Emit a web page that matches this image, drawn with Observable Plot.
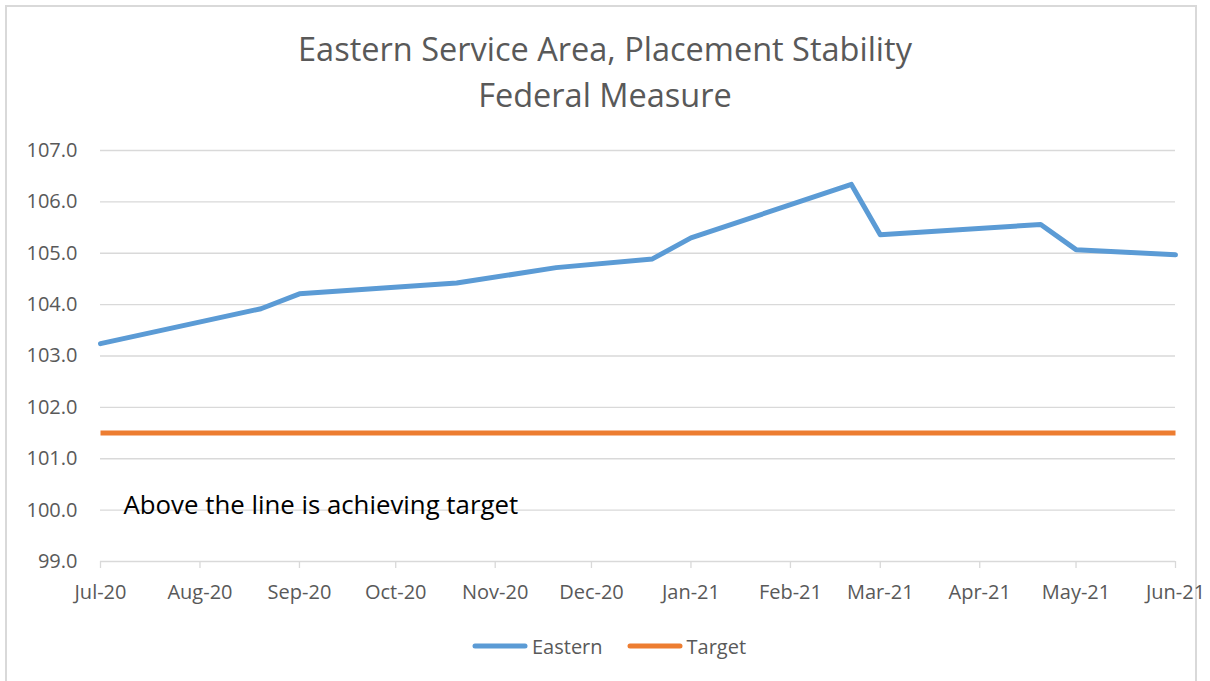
<!DOCTYPE html>
<html>
<head>
<meta charset="utf-8">
<script src="https://cdn.jsdelivr.net/npm/d3@7"></script>
<script src="https://cdn.jsdelivr.net/npm/@observablehq/plot@0.6"></script>
<style>
  html, body { margin: 0; padding: 0; background: #fff; }
  #wrap { position: relative; width: 1210px; height: 681px; overflow: hidden; font-family: "Open Sans", sans-serif; }
  #border { position: absolute; left: 5px; top: 5px; width: 1192px; height: 700px; border: 2px solid #d9d9d9; box-sizing: border-box; }
  #title { position: absolute; left: 0; top: 26px; width: 1210px; text-align: center; font-size: 32.5px; line-height: 46px; color: #595959; }
  #chart { position: absolute; left: 0; top: 130px; }
  #legend { position: absolute; left: 472px; top: 632px; height: 28px; display: flex; align-items: center; font-size: 20px; color: #595959; }
  #legend .item { display: flex; align-items: center; margin-right: 24px; }
  #legend svg { margin-right: 4px; }
</style>
</head>
<body>
<div id="wrap">
  <div id="border"></div>
  <div id="title">Eastern Service Area, Placement Stability<br>Federal Measure</div>
  <div id="chart"></div>
  <div id="legend"></div>
</div>
<script>
// Data
const dates = ["2020-07-01","2020-08-20","2020-09-01","2020-10-20","2020-11-20","2020-12-20",
               "2021-01-01","2021-02-20","2021-03-01","2021-04-20","2021-05-01","2021-06-01"];
const eastern = [103.24, 103.92, 104.21, 104.42, 104.72, 104.89, 105.30, 106.34, 105.36, 105.56, 105.07, 104.97];
const targetValue = 101.5;
const monthTicks = ["2020-07-01","2020-08-01","2020-09-01","2020-10-01","2020-11-01","2020-12-01",
                    "2021-01-01","2021-02-01","2021-03-01","2021-04-01","2021-05-01","2021-06-01"];
const yTicks = [99, 100, 101, 102, 103, 104, 105, 106, 107];
const seriesNames = ["Eastern", "Target"];
const seriesColors = ["#5B9BD5", "#ED7D31"];
const annotation = "Above the line is achieving target";

const parse = d3.utcParse("%Y-%m-%d");
const easternData = dates.map((d, i) => ({date: parse(d), value: eastern[i]}));
const targetData = dates.map(d => ({date: parse(d), value: targetValue}));
const xTicks = monthTicks.map(parse);

const chart = Plot.plot({
  width: 1210,
  height: 470,
  marginLeft: 100,
  marginRight: 35,
  marginTop: 20,
  marginBottom: 39,
  style: {fontFamily: "Open Sans, sans-serif", background: "transparent", overflow: "visible"},
  x: {type: "utc", domain: [xTicks[0], xTicks[xTicks.length - 1]]},
  y: {domain: [99, 107]},
  marks: [
    Plot.gridY(yTicks, {stroke: "#d9d9d9", strokeOpacity: 1, strokeWidth: 1.3}),
    Plot.axisY({ticks: yTicks, tickSize: 0, tickPadding: 23, tickFormat: d3.format(".1f"),
                fontSize: 20, fill: "#595959", label: null}),
    Plot.axisX({ticks: xTicks, tickSize: 7, tickPadding: 16, tickFormat: d3.utcFormat("%b-%y"),
                fontSize: 20, stroke: "#d9d9d9", strokeWidth: 1.3, fill: "#595959", label: null}),
    Plot.text([annotation], {frameAnchor: "bottom-left", textAnchor: "start", lineAnchor: "bottom",
                dx: 23, dy: -48, fontSize: 25.8, fill: "#000"}),
    Plot.line(targetData, {x: "date", y: "value", stroke: seriesColors[1], strokeWidth: 5, strokeLinecap: "butt"}),
    Plot.line(easternData, {x: "date", y: "value", stroke: seriesColors[0], strokeWidth: 5,
                strokeLinejoin: "round", strokeLinecap: "round"})
  ]
});
document.getElementById("chart").appendChild(chart);

const legend = document.getElementById("legend");
seriesNames.forEach((name, i) => {
  const item = document.createElement("div");
  item.className = "item";
  item.innerHTML = `<svg width="56" height="10"><line x1="3" y1="5" x2="53" y2="5" stroke="${seriesColors[i]}" stroke-width="5" stroke-linecap="round"/></svg><span>${name}</span>`;
  legend.appendChild(item);
});
</script>
</body>
</html>
